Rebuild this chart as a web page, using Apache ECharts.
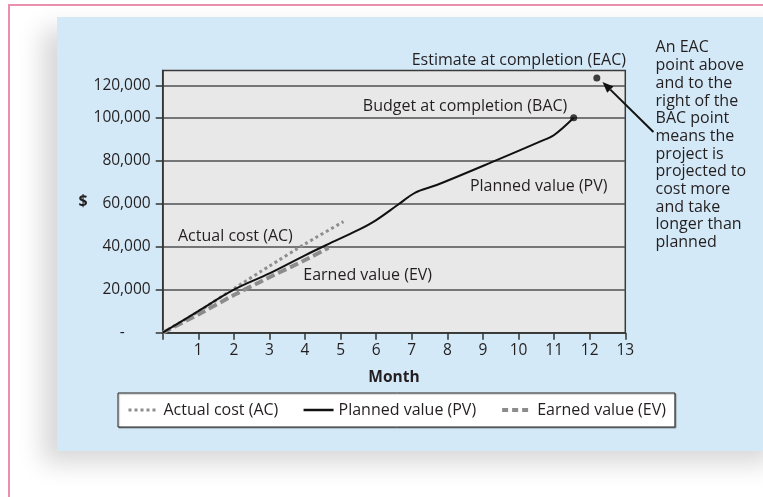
<!DOCTYPE html>
<html><head><meta charset="utf-8">
<script src="https://cdn.jsdelivr.net/npm/echarts@6/dist/echarts.min.js"></script>
<style>
html,body{margin:0;padding:0;background:#fff;width:763px;height:497px;overflow:hidden;}
#frame{position:absolute;left:8px;top:4px;width:800px;height:600px;border-left:2px solid #ea8fae;border-top:2px solid #ea8fae;}
#panel{position:absolute;left:57px;top:17px;width:730px;height:434px;background:#d4e9f7;box-shadow:-14px 12px 24px rgba(0,0,0,0.16);}
#chart{position:absolute;left:0;top:0;width:763px;height:497px;}
</style></head>
<body>
<div id="frame"></div><div id="panel"></div><div id="chart"></div>
<script>
// ---- data ----
const acMonths = [0, 1, 2, 3, 4, 5.08];
const acValues = [0, 9800, 20500, 31000, 41300, 51700];
const pvMonths = [0, 1, 2, 3, 4, 4.6, 5.5, 6, 6.6, 7.1, 7.7, 9.4, 10.6, 11, 11.55];
const pvValues = [0, 10000, 20000, 27600, 36000, 40800, 47800, 52400, 59400, 65200, 68700, 80400, 88900, 92000, 100000];
const evMonths = [0, 1, 2, 3, 4, 4.66];
const evValues = [0, 8500, 17500, 25800, 33800, 39500];
const pointNames = ['Budget at completion (BAC)', 'Estimate at completion (EAC)'];
const pointMonths = [11.55, 12.2];
const pointValues = [100000, 118500];
const yTickValues = [0, 20000, 40000, 60000, 80000, 100000, 115000];
const yTickLabels = ['-', '20,000', '40,000', '60,000', '80,000', '100,000', '120,000'];
const xTickValues = [0, 1, 2, 3, 4, 5, 6, 7, 8, 9, 10, 11, 12, 13];
const xTickLabels = ['', '1', '2', '3', '4', '5', '6', '7', '8', '9', '10', '11', '12', '13'];
const seriesNames = ['Actual cost (AC)', 'Planned value (PV)', 'Earned value (EV)'];
const noteLines = ['An EAC', 'point above', 'and to the', 'right of the', 'BAC point', 'means the', 'project is', 'projected to', 'cost more', 'and take', 'longer than', 'planned'];

const zip = (a, b) => a.map((v, i) => [v, b[i]]);
const FONT = '"Open Sans", "Noto Sans", sans-serif';
const TXT = '#231f20';
const FS = 16;
const AC_STYLE = {color: '#8e8e8e', width: 3, type: [3, 3]};
const PV_STYLE = {color: '#111', width: 2};
const EV_STYLE = {color: '#8c8c8c', width: 4, type: [9, 4]};

const chart = echarts.init(document.getElementById('chart'), null, {renderer: 'canvas'});
chart.setOption({
  animation: false,
  textStyle: {fontFamily: FONT},
  grid: {left: 162.7, right: 137.7, top: 70.5, bottom: 164.3, show: true,
         backgroundColor: '#e8e8e8', borderColor: '#3a3a3a', borderWidth: 1.5},
  xAxis: {
    type: 'value', min: 0, max: 13, interval: 1,
    name: 'Month', nameLocation: 'middle', nameGap: 37,
    nameTextStyle: {fontFamily: FONT, fontSize: 15.5, fontWeight: 'bold', color: TXT},
    axisLine: {lineStyle: {color: '#333', width: 1.5}},
    axisTick: {length: 7, lineStyle: {color: '#333', width: 1.5}},
    axisLabel: {margin: 10, fontFamily: FONT, fontSize: 15.5, color: TXT,
      formatter: v => xTickLabels[xTickValues.indexOf(Math.round(v))] || ''},
    splitLine: {show: false}
  },
  yAxis: {
    type: 'value', min: 0, max: 122000,
    name: '$', nameLocation: 'middle', nameRotate: 0, nameGap: 72,
    nameTextStyle: {fontFamily: FONT, fontSize: 16, fontWeight: 'bold', color: TXT},
    axisLine: {show: true, lineStyle: {color: '#333', width: 1.5}},
    axisTick: {show: true, length: 7, lineStyle: {color: '#333', width: 1.5}, customValues: yTickValues},
    axisLabel: {margin: 12, fontFamily: FONT, fontSize: 15.5, color: TXT, customValues: yTickValues,
      formatter: v => {
        const i = yTickValues.indexOf(v);
        const t = i >= 0 ? yTickLabels[i] : '';
        return t === '-' ? '{d|-}' : t;
      },
      rich: {d: {width: 57, align: 'center', fontFamily: FONT, fontSize: 15.5, color: TXT}}
    },
    splitLine: {show: true, lineStyle: {color: '#505050', width: 1.5}}
  },
  legend: {
    data: [
      {name: seriesNames[0], lineStyle: {width: 3, type: [3, 3], color: '#8e8e8e'}},
      {name: seriesNames[1], lineStyle: {width: 2.5, color: '#111'}},
      {name: seriesNames[2], lineStyle: {width: 4, type: [6, 4], color: '#8c8c8c'}}
    ],
    left: 118, top: 393, orient: 'horizontal',
    backgroundColor: '#fff', borderColor: '#222', borderWidth: 1,
    padding: [9, 9, 9, 9], itemGap: 24, itemWidth: 30, itemHeight: 14,
    itemStyle: {opacity: 0, color: 'rgba(0,0,0,0)', borderWidth: 0},
    shadowColor: 'rgba(0,0,0,0.3)', shadowOffsetX: 1, shadowOffsetY: 1, shadowBlur: 1,
    textStyle: {fontFamily: FONT, fontSize: FS, color: TXT}
  },
  series: [
    {name: seriesNames[2], type: 'line', data: zip(evMonths, evValues), symbol: 'none', smooth: 0.2,
     lineStyle: EV_STYLE, itemStyle: {color: EV_STYLE.color}, z: 2},
    {name: seriesNames[0], type: 'line', data: zip(acMonths, acValues), symbol: 'none', smooth: 0.2,
     lineStyle: AC_STYLE, itemStyle: {color: AC_STYLE.color}, z: 3},
    {name: seriesNames[1], type: 'line', data: zip(pvMonths, pvValues), symbol: 'none', smooth: 0.35,
     lineStyle: PV_STYLE, itemStyle: {color: PV_STYLE.color}, z: 4},
    {name: 'points', type: 'scatter', data: zip(pointMonths, pointValues), symbolSize: 7,
     itemStyle: {color: '#111'}, z: 5, clip: false}
  ]
});

// annotations placed via the chart's own coordinate system
const px = (m, v) => chart.convertToPixel({gridIndex: 0}, [m, v]);
const labels = [
  {text: pointNames[1], at: [13.02, 126500], align: 'right'},
  {text: pointNames[0], at: [11.37, 105500], align: 'right'},
  {text: 'Planned value (PV)', at: [12.5, 68100], align: 'right'},
  {text: 'Actual cost (AC)', at: [0.43, 45000], align: 'left'},
  {text: 'Earned value (EV)', at: [3.95, 26800], align: 'left'}
];
const graphics = labels.map(l => {
  const p = px(l.at[0], l.at[1]);
  return {type: 'text', x: p[0], y: p[1], z: 10,
    style: {text: l.text, fill: TXT, font: FS + 'px ' + FONT, textAlign: l.align, textVerticalAlign: 'middle'}};
});
const noteTop = px(13.85, 132500);
noteLines.forEach((t, i) => {
  graphics.push({type: 'text', x: noteTop[0], y: noteTop[1] + i * 17.7, z: 10,
    style: {text: t, fill: TXT, font: FS + 'px ' + FONT, textAlign: 'left', textVerticalAlign: 'middle'}});
});
// arrow from note to EAC point
const tail = px(13.79, 93400);
const head = px(12.36, 116700);
const ang = Math.atan2(head[1] - tail[1], head[0] - tail[0]);
const L = 11, W = 4.5;
const base = [head[0] - L * Math.cos(ang), head[1] - L * Math.sin(ang)];
graphics.push({type: 'line', z: 10, shape: {x1: tail[0], y1: tail[1], x2: base[0], y2: base[1]},
  style: {stroke: '#111', lineWidth: 2}});
graphics.push({type: 'polygon', z: 10, shape: {points: [
  head,
  [base[0] + W * Math.sin(ang), base[1] - W * Math.cos(ang)],
  [base[0] - W * Math.sin(ang), base[1] + W * Math.cos(ang)]
]}, style: {fill: '#111'}});
chart.setOption({graphic: graphics});
</script>
</body></html>
